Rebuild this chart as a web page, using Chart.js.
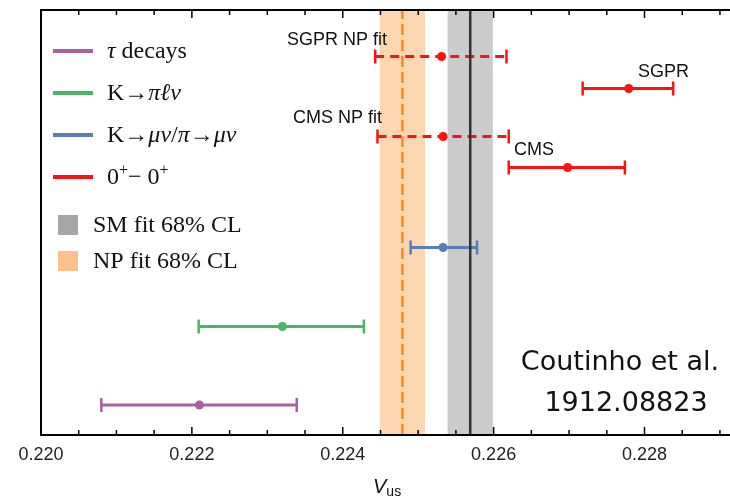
<!DOCTYPE html>
<html>
<head>
<meta charset="utf-8">
<script src="https://cdn.jsdelivr.net/npm/chart.js@4.4.1/dist/chart.umd.min.js"></script>
<style>
  body { margin: 0; background: #fff; }
  canvas { display: block; }
</style>
</head>
<body>
<canvas id="grafico" width="730" height="502"></canvas>
<script>
// medidas de Vus: valor central e intervalo de 1 sigma
const medidas = ['tau', 'Kl3', 'Kmu2', 'CMS', 'CMS NP fit', 'SGPR', 'SGPR NP fit'];
const linhaY = [0.6, 2.17, 3.75, 5.35, 5.97, 6.93, 7.57];
const centrais = [0.22210, 0.22320, 0.22533, 0.22698, 0.22533, 0.22779, 0.22531];
const inferiores = [0.22080, 0.22209, 0.22490, 0.22620, 0.22446, 0.22718, 0.22443];
const superiores = [0.22339, 0.22428, 0.22578, 0.22774, 0.22620, 0.22838, 0.22617];
const tracejado = [false, false, false, false, true, false, true];

// ajustes globais (banda de 68% CL e valor central)
const faixaSM = [0.22539, 0.22599];
const centralSM = 0.22569;
const faixaNP = [0.22449, 0.22509];
const centralNP = 0.22479;

const cores = ['#ad5f9e', '#4cb46b', '#5b7db6', '#ff1111', '#ff1111', '#ff1111', '#ff1111'];

const xMin = 0.220;
const xMax = 0.22912;
const yMax = 8.5;

var datasets = [];

// linhas verticais dos ajustes
datasets.push({
    data: [{ x: centralNP, y: 0 }, { x: centralNP, y: yMax }],
    showLine: true,
    borderColor: '#ff8a1c',
    borderWidth: 2.5,
    borderDash: [11, 5],
    pointRadius: 0
});
datasets.push({
    data: [{ x: centralSM, y: 0 }, { x: centralSM, y: yMax }],
    showLine: true,
    borderColor: '#333333',
    borderWidth: 2.5,
    pointRadius: 0
});

// barras de erro com as pontas
for (var i = 0; i < medidas.length; i++) {
    datasets.push({
        label: medidas[i],
        data: [{ x: inferiores[i], y: linhaY[i] }, { x: superiores[i], y: linhaY[i] }],
        showLine: true,
        borderColor: cores[i],
        borderWidth: 3,
        borderDash: tracejado[i] ? [9, 6] : [],
        pointStyle: 'line',
        pointRotation: 90,
        pointRadius: 7,
        pointBorderWidth: 2.5,
        pointBorderColor: cores[i]
    });
    datasets.push({
        data: [{ x: centrais[i], y: linhaY[i] }],
        pointStyle: 'circle',
        pointRadius: 4.5,
        pointBorderWidth: 0,
        pointBackgroundColor: cores[i]
    });
}

function textoRico(ctx, partes, x, y, tamanho, familia) {
    var cx = x;
    partes.forEach(function (p) {
        var estilo = p[1];
        if (estilo === 'sup') {
            ctx.font = Math.round(tamanho * 0.68) + 'px ' + familia;
            ctx.fillText(p[0], cx, y - tamanho * 0.28);
        } else if (estilo === 'sub') {
            ctx.font = Math.round(tamanho * 0.72) + 'px ' + familia;
            ctx.fillText(p[0], cx, y + tamanho * 0.25);
        } else {
            ctx.font = (estilo === 'i' ? 'italic ' : '') + tamanho + 'px ' + familia;
            ctx.fillText(p[0], cx, y);
        }
        cx += ctx.measureText(p[0]).width;
    });
}

const pluginFundo = {
    id: 'fundo',
    beforeDatasetsDraw(chart) {
        const ctx = chart.ctx;
        const a = chart.chartArea;
        const x = chart.scales.x;
        ctx.save();
        ctx.fillStyle = '#cbcbcb';
        ctx.fillRect(x.getPixelForValue(faixaSM[0]), a.top, x.getPixelForValue(faixaSM[1]) - x.getPixelForValue(faixaSM[0]), a.bottom - a.top);
        ctx.fillStyle = '#fed7b2';
        ctx.fillRect(x.getPixelForValue(faixaNP[0]), a.top, x.getPixelForValue(faixaNP[1]) - x.getPixelForValue(faixaNP[0]), a.bottom - a.top);
        ctx.restore();
    },
    afterDraw(chart) {
        const ctx = chart.ctx;
        const a = chart.chartArea;
        const x = chart.scales.x;
        ctx.save();

        // moldura: esquerda, topo e base
        ctx.strokeStyle = '#000';
        ctx.lineWidth = 2;
        ctx.beginPath();
        ctx.moveTo(a.left, a.bottom);
        ctx.lineTo(a.left, a.top);
        ctx.lineTo(a.right + 2, a.top);
        ctx.moveTo(a.left - 1, a.bottom);
        ctx.lineTo(a.right + 2, a.bottom);
        ctx.stroke();

        // marcas internas, maiores a cada 0.002
        ctx.lineWidth = 1.5;
        for (var k = 0; xMin + k * 0.0005 <= xMax; k++) {
            var px = x.getPixelForValue(xMin + k * 0.0005);
            var t = (k % 4 === 0) ? 8 : 5;
            ctx.beginPath();
            ctx.moveTo(px, a.bottom);
            ctx.lineTo(px, a.bottom - t);
            ctx.moveTo(px, a.top);
            ctx.lineTo(px, a.top + t);
            ctx.stroke();
        }

        // legenda
        ctx.fillStyle = '#111';
        ctx.textBaseline = 'middle';
        const serif = "'Liberation Serif', serif";
        const itens = [
            [[['τ', 'i'], [' decays', 'n']], cores[0]],
            [[['K→', 'n'], ['πℓν', 'i']], cores[1]],
            [[['K→', 'n'], ['μν', 'i'], ['/', 'n'], ['π', 'i'], ['→', 'n'], ['μν', 'i']], cores[2]],
            [[['0', 'n'], ['+', 'sup'], ['− 0', 'n'], ['+', 'sup']], cores[3]]
        ];
        itens.forEach(function (it, j) {
            var yy = 51 + j * 42;
            ctx.strokeStyle = it[1];
            ctx.lineWidth = 4;
            ctx.beginPath();
            ctx.moveTo(53, yy);
            ctx.lineTo(93, yy);
            ctx.stroke();
            ctx.fillStyle = '#111';
            textoRico(ctx, it[0], 107, yy + 1, 24, serif);
        });
        ctx.fillStyle = '#a6a6a6';
        ctx.fillRect(58, 215, 20, 20);
        ctx.fillStyle = '#fec08a';
        ctx.fillRect(58, 251, 20, 20);
        ctx.fillStyle = '#111';
        ctx.font = '24px ' + serif;
        ctx.fillText('SM fit 68% CL', 93, 226);
        ctx.fillText('NP fit 68% CL', 93, 262);

        // rótulos das medidas
        ctx.font = "18px 'Liberation Sans', sans-serif";
        ctx.fillStyle = '#111';
        ctx.fillText('SGPR NP fit', 287, 40);
        ctx.fillText('CMS NP fit', 293, 118);
        ctx.fillText('SGPR', 638, 72);
        ctx.fillText('CMS', 514, 150);

        // referência
        ctx.textAlign = 'center';
        ctx.font = "27px 'Comic Sans MS', 'DejaVu Sans', sans-serif";
        ctx.fillText('Coutinho et al.', 620, 363);
        ctx.fillText('1912.08823', 626, 404);

        // título do eixo
        ctx.textAlign = 'left';
        textoRico(ctx, [['V', 'i'], ['us', 'sub']], 373, 487, 20, "'Liberation Sans', sans-serif");
        ctx.restore();
    }
};

const config_grafico = {
    type: 'scatter',
    data: { datasets: datasets },
    options: {
        responsive: false,
        animation: false,
        layout: { autoPadding: false, padding: { left: 41, right: 1, top: 10, bottom: 0 } },
        scales: {
            x: {
                type: 'linear',
                min: xMin,
                max: xMax,
                afterFit: function (scale) {
                    scale.height = 67;
                    scale.paddingLeft = 0;
                    scale.paddingRight = 0;
                },
                grid: { display: false, drawTicks: false },
                border: { display: false },
                ticks: {
                    stepSize: 0.002,
                    includeBounds: false,
                    padding: 9,
                    color: '#222',
                    font: { size: 18, family: 'Liberation Sans' },
                    callback: function (v) { return v.toFixed(3); }
                }
            },
            y: {
                min: 0,
                max: yMax,
                display: false
            }
        },
        plugins: {
            legend: { display: false },
            tooltip: { enabled: false }
        }
    },
    plugins: [pluginFundo]
};

const grafico = new Chart(document.getElementById('grafico'), config_grafico);
</script>
</body>
</html>
